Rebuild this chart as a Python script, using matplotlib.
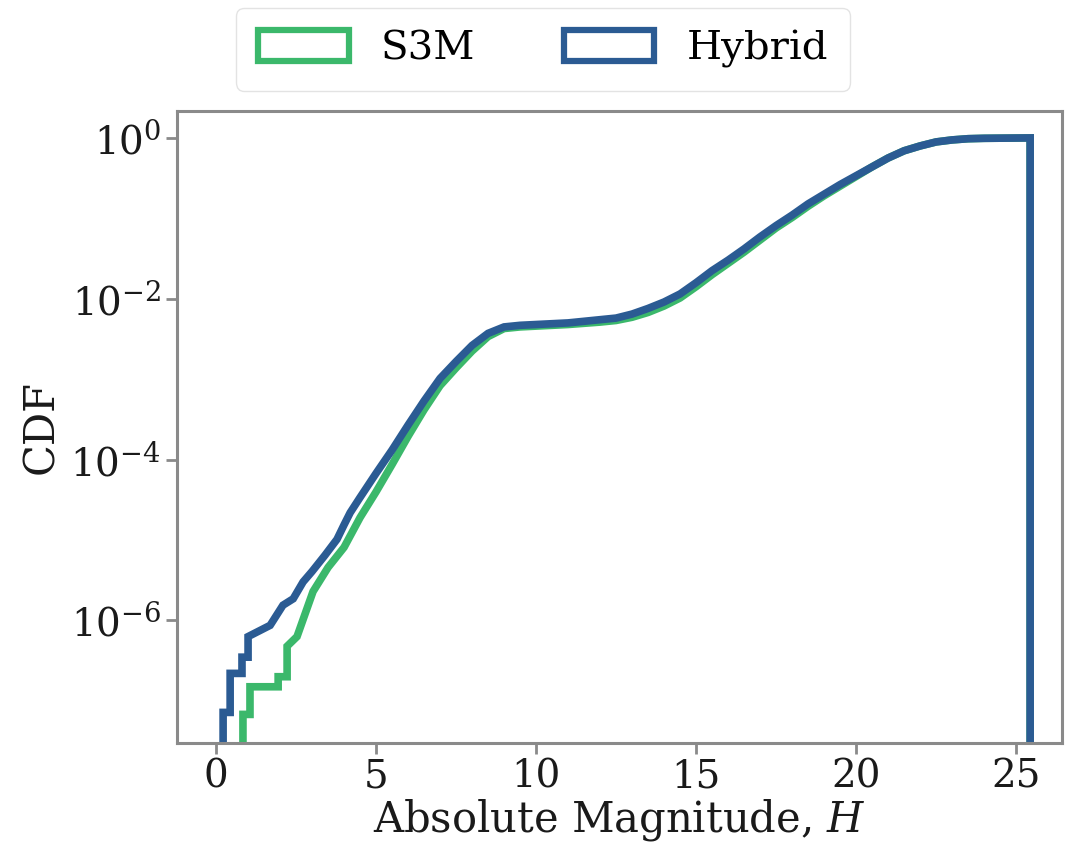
import numpy as np
import matplotlib.pyplot as plt
from matplotlib.patches import Patch

plt.rcParams['font.family'] = ['DejaVu Serif']
plt.rcParams['mathtext.fontset'] = 'dejavuserif'

# Hybrid: ragged low-H steps (level starts at each H), then the smooth part (log10 CDF)
hyb_step_H = [0.22, 0.44, 0.81]
hyb_step_cdf = [7.2e-8, 2.2e-7, 3.5e-7]
hyb_H = [1.0, 1.69, 2.09, 2.41, 2.72, 3.0, 3.4, 3.78, 4.0, 4.19, 4.5, 5.0, 5.5, 6.0,
         6.5, 7.0, 7.5, 8.0, 8.5, 9.0, 9.5, 10.0, 11.0, 12.0, 12.5, 13.0, 13.5,
         14.0, 14.5, 15.0, 15.5, 16.0, 16.5, 17.0, 17.5, 18.0, 18.5, 19.0, 19.5,
         20.0, 20.5, 21.0, 21.5, 22.0, 22.5, 23.0, 23.5, 24.0, 25.44]
hyb_logcdf = [-6.2, -6.06, -5.81, -5.73, -5.52, -5.39, -5.19, -4.99, -4.81, -4.66,
              -4.47, -4.17, -3.88, -3.57, -3.27, -2.99, -2.78, -2.58, -2.43, -2.35,
              -2.33, -2.32, -2.30, -2.26, -2.24, -2.19, -2.12, -2.04, -1.94, -1.80,
              -1.65, -1.52, -1.38, -1.23, -1.09, -0.96, -0.82, -0.70, -0.58, -0.47,
              -0.36, -0.25, -0.16, -0.10, -0.05, -0.025, -0.01, -0.005, 0.0]

# S3M
s3m_step_H = [0.84, 1.06, 1.94]
s3m_step_cdf = [6.8e-8, 1.5e-7, 2.0e-7]
s3m_H = [2.22, 2.53, 3.03, 3.5, 4.0, 4.5, 5.0, 5.5, 6.0, 6.5, 7.0, 7.5, 8.0, 8.5,
         9.0, 9.5, 10.0, 11.0, 12.0, 12.5, 13.0, 13.5, 14.0, 14.5, 15.0, 15.5,
         16.0, 16.5, 17.0, 17.5, 18.0, 18.5, 19.0, 19.5, 20.0, 20.5, 21.0, 21.5,
         22.0, 22.5, 23.0, 23.5, 24.0, 25.44]
s3m_logcdf = [-6.32, -6.2, -5.64, -5.34, -5.09, -4.72, -4.40, -4.06, -3.71, -3.38,
              -3.08, -2.86, -2.65, -2.47, -2.37, -2.35, -2.34, -2.32, -2.29, -2.27,
              -2.23, -2.17, -2.09, -1.99, -1.85, -1.70, -1.56, -1.42, -1.27, -1.12,
              -0.99, -0.85, -0.72, -0.60, -0.48, -0.36, -0.25, -0.16, -0.10, -0.05,
              -0.025, -0.01, -0.005, 0.0]

green = '#3bb86b'
blue = '#2b5b93'
floor = 1e-12  # below the axes, gets clipped


def cdf_path(step_H, step_cdf, H, logcdf):
    cdf = list(10.0 ** np.array(logcdf))
    xs, ys = [step_H[0]], [floor]
    levels = step_cdf + [cdf[0]]
    starts = step_H + [H[0]]
    for i, lev in enumerate(levels[:-1]):
        xs += [starts[i], starts[i + 1]]
        ys += [lev, lev]
    xs += H + [H[-1]]
    ys += cdf + [floor]
    return xs, ys


fig = plt.figure(figsize=(10.69, 8.5), dpi=100)
ax = fig.add_axes([0.1656, 0.1259, 0.828, 0.7435])

x, y = cdf_path(s3m_step_H, s3m_step_cdf, s3m_H, s3m_logcdf)
ax.plot(x, y, color=green, lw=5.5, solid_joinstyle='miter')
x, y = cdf_path(hyb_step_H, hyb_step_cdf, hyb_H, hyb_logcdf)
ax.plot(x, y, color=blue, lw=5.5, solid_joinstyle='miter')

ax.set_yscale('log')
ax.set_xlim(-1.22, 26.44)
ax.set_ylim(3.0e-8, 2.16)
ax.set_yticks([1e-6, 1e-4, 1e-2, 1])
ax.yaxis.set_minor_locator(plt.NullLocator())
ax.set_xticks([0, 5, 10, 15, 20, 25])

for s in ax.spines.values():
    s.set_color('#8a8a8a')
    s.set_linewidth(2.2)
ax.tick_params(labelsize=28, length=8, width=2, color='#8a8a8a', labelcolor='#1a1a1a')

ax.set_xlabel('Absolute Magnitude, $H$', fontsize=30, color='#1a1a1a', labelpad=1)
ax.set_ylabel('CDF', fontsize=30, color='#1a1a1a', labelpad=6)

handles = [Patch(facecolor='none', edgecolor=green, lw=4.5, label='S3M'),
           Patch(facecolor='none', edgecolor=blue, lw=4.5, label='Hybrid')]
fig.legend(handles=handles, loc='upper center', bbox_to_anchor=(0.508, 1.014),
           ncol=2, fontsize=29, frameon=True, handlelength=2.25, handleheight=0.8,
           handletextpad=0.8, columnspacing=2.2, borderpad=0.55,
           edgecolor='#dddddd', fancybox=True)

fig.savefig('out.png', dpi=100)
